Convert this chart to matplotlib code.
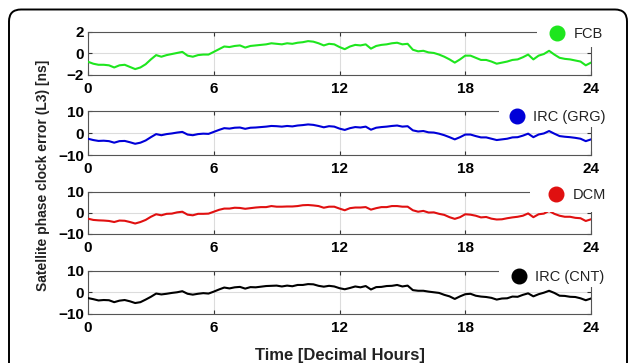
import numpy as np
import matplotlib
matplotlib.use("Agg")
import matplotlib.pyplot as plt
from matplotlib.lines import Line2D
from matplotlib.patches import Rectangle, FancyBboxPatch
from matplotlib.transforms import IdentityTransform

plt.rcParams['font.family'] = ['Liberation Sans', 'DejaVu Sans']

# time axis, every 15 minutes
hours = np.arange(0, 24.01, 0.25)

fcb = [-0.77, -0.95, -1.05, -1.05, -1.1, -1.3, -1.1, -1.05, -1.25, -1.45, -1.3, -1.0,
       -0.55, -0.15, -0.3, -0.15, -0.05, 0.05, 0.15, -0.2, -0.3, -0.15, -0.1, -0.1,
       0.15, 0.4, 0.65, 0.6, 0.7, 0.75, 0.55, 0.7, 0.75, 0.8, 0.85, 0.95,
       0.9, 0.85, 0.95, 0.9, 1.0, 1.05, 1.15, 1.1, 0.95, 0.75, 0.9, 0.85,
       0.6, 0.4, 0.65, 0.8, 0.75, 0.85, 0.45, 0.7, 0.8, 0.85, 0.95, 1.0,
       0.85, 0.9, 0.35, 0.2, 0.25, 0.1, 0.05, -0.1, -0.3, -0.55, -0.85, -0.55,
       -0.2, -0.2, -0.4, -0.6, -0.6, -0.75, -0.95, -0.85, -0.75, -0.6, -0.55, -0.35,
       -0.1, -0.55, -0.2, -0.05, 0.25, -0.1, -0.4, -0.5, -0.55, -0.65, -0.75, -1.1,
       -0.85]

irc_grg = [-2.6, -3.2, -3.6, -3.5, -3.7, -4.4, -3.7, -3.6, -4.2, -4.9, -4.4, -3.4,
           -1.9, -0.5, -1.0, -0.5, -0.2, 0.2, 0.5, -0.7, -1.0, -0.5, -0.3, -0.4,
           0.5, 1.4, 2.2, 2.0, 2.4, 2.5, 1.9, 2.4, 2.5, 2.7, 2.9, 3.2,
           3.1, 2.9, 3.2, 3.0, 3.4, 3.6, 3.9, 3.7, 3.2, 2.6, 3.1, 2.9,
           2.0, 1.4, 2.2, 2.7, 2.5, 2.9, 1.5, 2.4, 2.7, 2.9, 3.2, 3.4,
           2.9, 3.1, 1.2, 0.7, 0.9, 0.3, 0.2, -0.3, -1.0, -1.9, -2.9, -1.9,
           -0.7, -0.7, -1.4, -2.0, -2.0, -2.6, -3.2, -2.9, -2.6, -2.0, -1.9, -1.2,
           -0.3, -1.9, -0.7, -0.2, 0.9, -0.3, -1.4, -1.7, -1.9, -2.2, -2.6, -3.7,
           -2.9]

dcm = [-2.7, -3.3, -3.5, -3.6, -3.8, -4.3, -3.6, -3.7, -4.3, -5.0, -4.3, -3.3,
       -1.8, -0.6, -1.1, -0.4, -0.3, 0.3, 0.6, -0.8, -1.1, -0.4, -0.4, -0.3,
       0.6, 1.5, 2.1, 2.1, 2.5, 2.4, 2.0, 2.3, 2.6, 2.8, 2.8, 3.3,
       3.0, 3.0, 3.1, 3.1, 3.3, 3.7, 3.8, 3.6, 3.3, 2.5, 3.0, 3.0,
       2.1, 1.3, 2.3, 2.6, 2.6, 2.8, 1.6, 2.3, 2.8, 2.8, 3.3, 3.3,
       3.0, 3.0, 1.3, 0.6, 1.0, 0.2, 0.3, -0.4, -0.9, -2.0, -2.8, -2.0,
       -0.6, -0.8, -1.3, -2.1, -1.9, -2.7, -3.1, -3.0, -2.5, -2.1, -1.8, -1.3,
       -0.2, -2.0, -0.6, -0.3, 1.0, -0.4, -1.3, -1.8, -1.8, -2.3, -2.5, -3.8,
       -3.0]

irc_cnt = [-2.6, -3.1, -3.7, -3.5, -3.6, -4.5, -3.8, -3.5, -4.1, -4.9, -4.5, -3.3,
           -2.0, -0.5, -0.9, -0.6, -0.2, 0.1, 0.6, -0.6, -1.0, -0.6, -0.3, -0.5,
           0.4, 1.4, 2.3, 1.9, 2.4, 2.6, 1.8, 2.5, 2.4, 2.7, 3.0, 3.1,
           3.2, 2.8, 3.2, 2.9, 3.5, 3.5, 3.9, 3.8, 3.1, 2.7, 3.1, 2.8,
           2.0, 1.5, 2.1, 2.8, 2.4, 3.0, 1.4, 2.5, 2.6, 3.0, 3.1, 3.5,
           2.8, 3.2, 1.1, 0.8, 0.8, 0.4, 0.1, -0.2, -1.1, -1.8, -3.0, -1.8,
           -0.8, -0.6, -1.5, -1.9, -2.1, -2.5, -3.3, -2.8, -2.7, -1.9, -2.0, -1.1,
           -0.4, -1.8, -0.8, -0.1, 0.8, -0.2, -1.5, -1.6, -2.0, -2.1, -2.7, -3.6,
           -2.8]

names = ["FCB", "IRC (GRG)", "DCM", "IRC (CNT)"]
series = [fcb, irc_grg, dcm, irc_cnt]
colors = ["#1ee61e", "#0000d8", "#e01010", "#000000"]
ylims = [(-2, 2), (-10, 10), (-10, 10), (-10, 10)]
yticks = [[-2, 0, 2], [-10, 0, 10], [-10, 0, 10], [-10, 0, 10]]
xticks = [0, 6, 12, 18, 24]

# axes rectangles [left, bottom, width, height] in figure fraction
boxes = [[0.1397, 0.7934, 0.7984, 0.1185],
         [0.1397, 0.5730, 0.7984, 0.1212],
         [0.1397, 0.3554, 0.7984, 0.1157],
         [0.1397, 0.1350, 0.7984, 0.1185]]
# white legend patch (x0, y0) and legend anchor (x, y) in axes fraction
patch_xy = [(0.893, 0.65), (0.817, 0.636), (0.879, 0.53), (0.817, 0.63)]
leg_xy = [(0.9185, 0.953), (0.839, 0.864), (0.9165, 0.93), (0.843, 0.86)]

fig = plt.figure(figsize=(6.3, 3.63), dpi=100)

for i in range(4):
    ax = fig.add_axes(boxes[i])
    ax.plot(hours, series[i], color=colors[i], lw=1.5, zorder=3)
    ax.set_xlim(0, 24)
    ax.set_ylim(*ylims[i])
    ax.set_xticks(xticks)
    ax.set_yticks(yticks[i])
    ax.grid(True, color="#dcdcdc", lw=0.8)
    ax.set_axisbelow(True)
    ax.tick_params(direction="in", top=True, right=True, length=3, width=0.8,
                   color="#333333", labelsize=11)
    ax.tick_params(axis="x", pad=5)
    ax.tick_params(axis="y", pad=3)
    for lab in ax.get_xticklabels() + ax.get_yticklabels():
        lab.set_fontweight("bold")
    for sp in ax.spines.values():
        sp.set_color("#555555")
        sp.set_linewidth(0.8)
    ax.add_patch(Rectangle(patch_xy[i], 0.3, 0.6, transform=ax.transAxes,
                           fc="white", ec="none", clip_on=False, zorder=4))
    h = Line2D([], [], marker="o", ls="", color=colors[i], markersize=10.5)
    ax.legend([h], [names[i]], loc="center left", bbox_to_anchor=leg_xy[i],
              frameon=False, borderpad=0, borderaxespad=0, handlelength=1.0,
              handletextpad=0.6, fontsize=10.5, labelcolor="#222222")

fig.text(0.0675, 0.518, "Satellite phase clock error (L3) [ns]", rotation=90,
         ha="center", va="center", fontsize=10, fontweight="bold", color="#222222")
fig.text(0.539, 0.022, "Time [Decimal Hours]", ha="center", va="center",
         fontsize=12, fontweight="bold", color="#222222")

# rounded outer frame, drawn in pixel units
frame = FancyBboxPatch((9, -30), 618, 383.5, boxstyle="round,pad=0,rounding_size=12",
                       transform=IdentityTransform(), fc="none", ec="black", lw=1.4)
fig.add_artist(frame)

fig.savefig("out.png", dpi=100)
